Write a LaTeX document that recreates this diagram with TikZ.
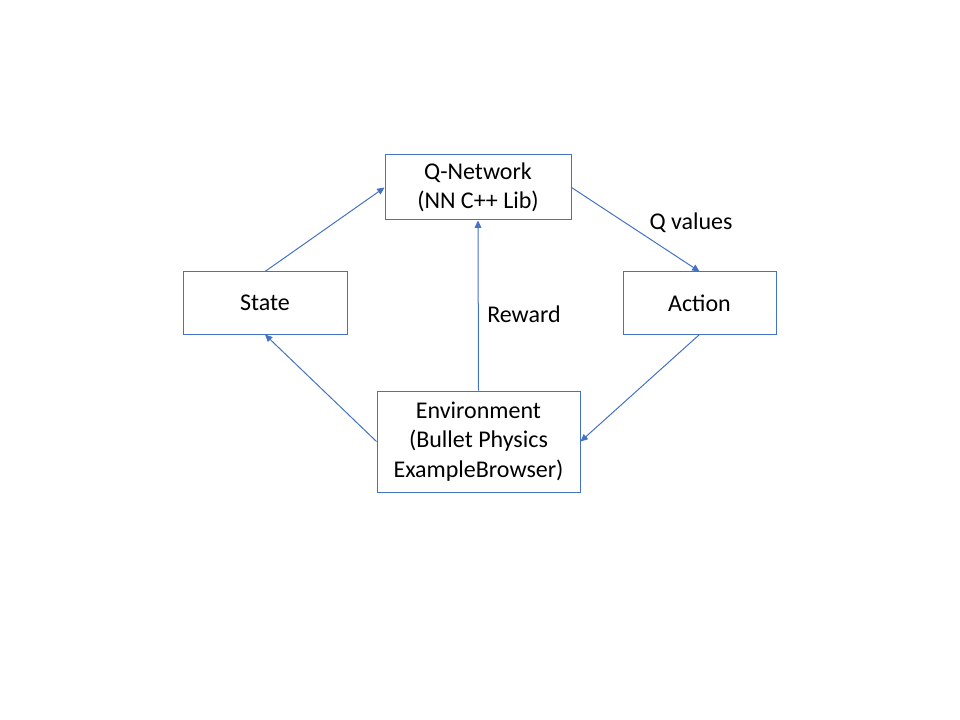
\documentclass[tikz,border=0pt]{standalone}
\usepackage{fontspec}
\setmainfont{Carlito}
\usetikzlibrary{arrows.meta}
\definecolor{lineblue}{HTML}{4472C4}
\begin{document}
\begin{tikzpicture}[x=0.75pt,y=-0.75pt,
  box/.style={draw=lineblue,line width=0.75pt,align=center,inner sep=0pt,
    font=\fontsize{18}{22}\selectfont,text=black},
  conn/.style={draw=lineblue,line width=0.75pt,-{Triangle[length=5.5pt,width=5pt]}},
  lbl/.style={font=\fontsize{18}{22}\selectfont,text=black}]
\useasboundingbox (0,0) rectangle (960,720);
\node[box,minimum width=139.5pt,minimum height=48.75pt] (q) at (478,187.5) {Q-Network\\(NN C++ Lib)};
\node[box,minimum width=123pt,minimum height=46.5pt] (s) at (265,303) {State};
\node[box,minimum width=114.75pt,minimum height=46.5pt] (a) at (699.5,303) {Action};
\node[box,minimum width=152.25pt,minimum height=75.75pt] (e) at (478.5,441.5) {Environment\\(Bullet Physics\\ExampleBrowser)};
\draw[conn] (s.north) -- (q.west);
\draw[conn] (q.east) -- (a.north);
\draw[conn] (a.south) -- (e.east);
\draw[conn] (e.west) -- (s.south);
\draw[conn] (e.north) -- (q.south);
\node[lbl] (qv) at (691,223) {Q values};
\node[lbl] (rw) at (524,314) {Reward};
\end{tikzpicture}
\end{document}
